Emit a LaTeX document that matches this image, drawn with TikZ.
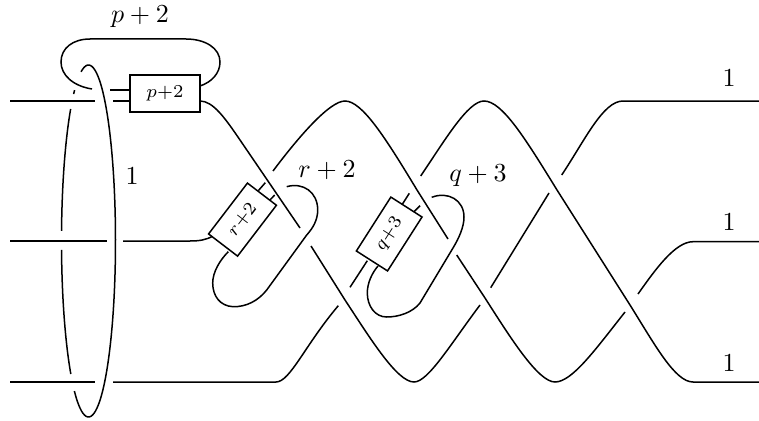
\documentclass[tikz,border=0pt]{standalone}
\tikzset{
  strand/.style={line width=1.5pt,line cap=butt},
  lab/.style={inner sep=0pt,scale=2.6},
  twistbox/.style={draw,line width=1.5pt,fill=white,inner sep=0pt,minimum width=#1},
  twistbox/.default=64pt
}
\newcommand{\smalllab}[1]{\scalebox{2.6}{$\scriptstyle #1$}}
\begin{document}
\begin{tikzpicture}[x=1pt,y=-1pt]
\useasboundingbox (0,0) rectangle (759,420);
\begin{scope}[strand]
% horizontal strands on the left
\draw (10,101) -- (95,101);
\draw (113,101) -- (130,101);
\draw (110,90) -- (130,90);
\draw (10,241) -- (107,241);
\draw (123,241) -- (190,241) .. controls (199,241) and (206,240) .. (213,236);
\draw (10,382) -- (95,382);
\draw (113,382) -- (276,382) .. controls (290,382) and (305,345) .. (338.3,305.7);
% unknot
\def\ell#1#2{\draw[domain=#1:#2,samples=70,smooth,variable=\t] plot ({88.5+27*cos(\t)},{241-176*sin(\t)});}
\ell{106}{-121.5}
\ell{121}{123.4}
\ell{131.4}{176.7}
\ell{182.9}{229.1}
% p+2 loop
\draw (200,86) .. controls (212,82) and (220,73) .. (220,62)
  .. controls (220,48) and (205,39) .. (186,39) -- (90,39)
  .. controls (73,39) and (61,48) .. (61,62)
  .. controls (61,75) and (73,86) .. (92,89);
% strand A
\draw (200,101) .. controls (213,101) and (225,118) .. (240,140) -- (300,228);
\draw (311,246) -- (345,300) .. controls (370,338) and (397,382) .. (414,382)
  .. controls (428,382) and (450,345) .. (480,305);
\draw (490.7,287.7) -- (549,193);
\draw (561.7,175) .. controls (585,140) and (603,101) .. (623,101) -- (759,101);
% strand C
\draw (258.3,190.7) -- (265.3,182.7);
\draw (273,171) .. controls (300,135) and (330,101) .. (345,101)
  .. controls (362,101) and (385,137) .. (417,190) -- (448,239);
\draw (456.7,255) -- (485,298) .. controls (510,337) and (538,382) .. (555,382)
  .. controls (572,382) and (595,350) .. (625,312);
\draw (638,294) .. controls (655,270) and (675,241.7) .. (693,241.7) -- (759,241.7);
% strand D
\draw (402.3,204.3) -- (409.3,193.3);
\draw (420.7,176) .. controls (445,140) and (468,101) .. (484,101)
  .. controls (502,101) and (525,138) .. (557,190) -- (630,305)
  .. controls (655,345) and (675,382) .. (693,382) -- (759,382);
% r+2 loop
\draw (269.3,200.7) -- (274.7,195);
\draw (286.7,186.7) .. controls (303,182) and (317.7,192) .. (317.7,210)
  .. controls (317.7,220) and (313,228) .. (306.7,235) -- (266.7,290)
  .. controls (258,301) and (246,307) .. (233,306.7)
  .. controls (220,306) and (212.7,296) .. (212.7,283)
  .. controls (212.7,272) and (220,260) .. (228.3,251.7);
% q+3 loop
\draw (414,211.7) -- (420,205.7);
\draw (431.7,197.3) .. controls (448,191) and (464,200) .. (464,217)
  .. controls (464,227) and (459,238) .. (453,248) -- (420,303)
  .. controls (412,313) and (398,317) .. (386.7,317)
  .. controls (375,317) and (367.3,306) .. (367.3,293)
  .. controls (367.3,283) and (372,273) .. (378,266);
% lower wire of q+3
\draw (367.3,260.7) -- (350,287.3);
\end{scope}
% twist boxes
\node[twistbox=70pt,minimum height=37pt] (boxp) at (165,93.5) {\smalllab{p+2}};
\node[twistbox=64pt,minimum height=36.5pt,rotate=52.6] (boxr) at (242.5,219.6) {\smalllab{r+2}};
\node[twistbox=64pt,minimum height=37pt,rotate=57.4] (boxq) at (389.2,234) {\smalllab{q+3}};
% labels
\node[lab] (lp) at (140,17) {$p+2$};
\node[lab] (lr) at (327,170) {$r+2$};
\node[lab] (lq) at (478,176) {$q+3$};
\node[lab] (lu) at (132,176) {$1$};
\node[lab] (l1) at (729,78) {$1$};
\node[lab] (l2) at (729,222) {$1$};
\node[lab] (l3) at (729,363) {$1$};
\end{tikzpicture}
\end{document}
